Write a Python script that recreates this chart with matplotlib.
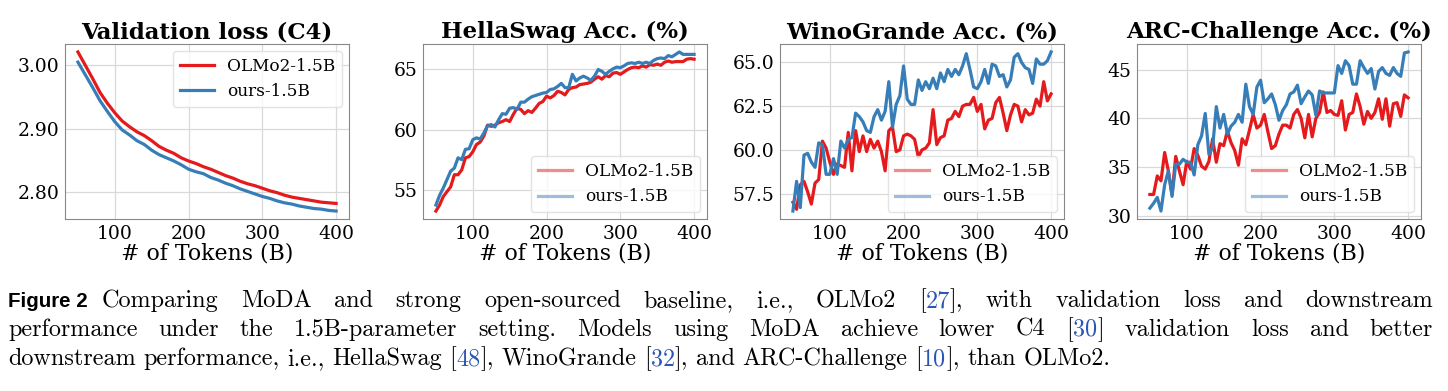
import numpy as np
import matplotlib
matplotlib.use('Agg')
import matplotlib.pyplot as plt

# ---- data ----
tokens_loss = list(range(50, 401, 10))
loss_olmo = [3.021, 3.000, 2.979, 2.957, 2.940, 2.925, 2.912, 2.903, 2.895, 2.889,
             2.881, 2.872, 2.866, 2.861, 2.854, 2.849, 2.845, 2.840, 2.836, 2.831,
             2.826, 2.822, 2.817, 2.813, 2.810, 2.806, 2.802, 2.799, 2.795, 2.792,
             2.790, 2.788, 2.786, 2.784, 2.783, 2.782]
loss_ours = [3.005, 2.985, 2.965, 2.944, 2.927, 2.911, 2.898, 2.890, 2.881, 2.875,
             2.866, 2.859, 2.854, 2.849, 2.843, 2.836, 2.832, 2.829, 2.823, 2.819,
             2.814, 2.810, 2.805, 2.801, 2.797, 2.793, 2.790, 2.786, 2.783, 2.781,
             2.778, 2.776, 2.774, 2.773, 2.771, 2.770]

tokens = list(range(50, 401, 5))
hella_olmo = [53.3, 53.8, 54.5, 54.9, 55.3, 56.3, 56.3, 56.7, 57.7, 57.8,
              58.2, 58.8, 59.0, 59.5, 60.4, 60.3, 60.4, 60.6, 60.7, 60.85,
              60.7, 61.3, 61.8, 61.7, 61.35, 61.6, 61.45, 61.8, 62.2, 62.35,
              62.8, 62.65, 62.85, 63.2, 63.1, 62.9, 63.35, 63.5, 63.55, 63.75,
              63.8, 63.85, 63.95, 64.2, 64.4, 64.2, 64.5, 64.4, 64.7, 64.75,
              64.6, 64.8, 65.0, 65.15, 65.2, 65.15, 65.3, 65.2, 65.4, 65.35,
              65.45, 65.35, 65.6, 65.7, 65.6, 65.65, 65.65, 65.65, 65.85, 65.9,
              65.85]
hella_ours = [53.8, 54.6, 55.2, 55.9, 56.6, 56.85, 57.7, 57.55, 58.4, 58.45,
              59.2, 59.35, 59.25, 59.75, 60.35, 60.45, 60.25, 60.85, 61.35, 61.3,
              61.8, 61.85, 61.7, 62.3, 62.3, 62.55, 62.75, 62.85, 62.95, 63.05,
              63.1, 63.35, 63.4, 63.6, 63.85, 63.5, 63.5, 64.6, 64.05, 64.3,
              64.45, 64.3, 64.1, 64.45, 65.0, 64.85, 64.6, 64.85, 65.05, 65.2,
              65.15, 65.3, 65.5, 65.55, 65.5, 65.6, 65.5, 65.6, 65.5, 65.75,
              65.9, 65.95, 65.9, 66.15, 66.05, 66.25, 66.45, 66.25, 66.25, 66.25,
              66.25]
wino_olmo = [57.0, 56.6, 58.0, 58.2, 57.6, 56.9, 58.1, 58.3, 60.5, 60.1,
             59.3, 58.6, 59.2, 59.1, 59.0, 61.0, 58.8, 61.1, 59.9, 60.8,
             59.9, 60.6, 60.1, 60.5, 59.9, 58.8, 61.1, 61.3, 59.9, 60.0,
             60.8, 60.9, 60.8, 60.6, 59.6, 60.0, 60.1, 60.4, 62.3, 60.3,
             60.7, 60.8, 61.7, 61.8, 62.2, 61.9, 62.5, 62.6, 62.6, 63.0,
             62.2, 62.6, 61.2, 61.7, 61.8, 62.7, 63.0, 62.1, 61.1, 62.0,
             62.6, 62.5, 61.6, 62.3, 62.0, 62.1, 62.9, 62.5, 63.9, 62.8,
             63.2]
wino_ours = [56.5, 58.2, 56.7, 59.7, 59.8, 59.3, 59.0, 60.4, 60.3, 58.6,
             58.6, 59.5, 58.6, 60.5, 60.1, 60.6, 60.7, 62.1, 61.9, 61.6,
             61.1, 61.0, 61.9, 62.3, 61.7, 62.2, 63.9, 61.3, 62.6, 63.1,
             64.8, 62.9, 62.6, 62.6, 64.0, 63.4, 63.9, 63.5, 64.1, 63.5,
             64.4, 63.9, 64.6, 64.2, 64.6, 64.3, 64.8, 65.5, 64.6, 63.6,
             63.5, 63.9, 64.6, 63.8, 64.9, 64.8, 64.2, 64.3, 63.6, 64.0,
             65.3, 65.5, 65.0, 64.7, 64.6, 63.8, 65.2, 64.9, 64.9, 65.1,
             65.6]
arc_olmo = [32.2, 32.2, 34.1, 33.6, 36.5, 34.6, 32.2, 36.1, 34.6, 33.2,
            35.6, 34.8, 36.9, 36.2, 35.1, 34.8, 35.6, 37.9, 35.5, 37.4,
            37.2, 38.7, 37.5, 36.7, 35.2, 37.9, 37.3, 38.8, 40.4, 39.0,
            39.3, 40.4, 38.6, 36.9, 37.2, 38.4, 39.3, 39.3, 39.0, 40.4,
            40.9, 40.0, 38.0, 40.4, 38.1, 40.0, 40.6, 42.7, 40.6, 40.8,
            40.4, 40.3, 41.8, 38.8, 40.4, 40.6, 42.5, 41.2, 39.4, 40.7,
            40.0, 40.6, 42.0, 39.9, 42.0, 39.2, 41.5, 41.6, 40.2, 42.4,
            42.1]
arc_ours = [30.8, 31.3, 31.9, 30.5, 33.2, 34.6, 32.0, 35.3, 35.3, 35.8,
            35.5, 35.5, 34.2, 37.3, 38.2, 40.5, 36.3, 37.0, 41.2, 39.0,
            40.4, 38.4, 39.2, 39.6, 40.4, 39.6, 43.5, 41.2, 40.4, 43.2,
            43.9, 41.6, 42.0, 42.5, 41.4, 39.8, 40.8, 41.4, 42.5, 42.7,
            43.4, 41.5, 42.2, 42.8, 42.4, 40.3, 42.8, 42.6, 42.6, 42.6,
            42.6, 45.4, 44.6, 45.9, 45.4, 43.5, 43.5, 45.9, 45.2, 44.6,
            45.1, 43.0, 44.8, 45.2, 44.6, 44.4, 45.2, 44.6, 44.3, 46.7,
            46.8]

titles = ['Validation loss (C4)', 'HellaSwag Acc. (%)',
          'WinoGrande Acc. (%)', 'ARC-Challenge Acc. (%)']
yticks = [[2.80, 2.90, 3.00], [55, 60, 65], [57.5, 60.0, 62.5, 65.0], [30, 35, 40, 45]]
yfmt = ['{:.2f}', '{:.0f}', '{:.1f}', '{:.0f}']
labels = ['OLMo2-1.5B', 'ours-1.5B']

caption = [
    "Figure 2|Comparing MoDA and strong open-sourced baseline, i.e., OLMo2 [{27}], with validation loss and downstream",
    "performance under the 1.5B-parameter setting. Models using MoDA achieve lower C4 [{30}] validation loss and better",
    "downstream performance, i.e., HellaSwag [{48}], WinoGrande [{32}], and ARC-Challenge [{10}], than OLMo2.",
]

RED = '#e41a1c'
BLUE = '#377eb8'
CITE = '#2a56b4'

W, H = 1448, 391
fig = plt.figure(figsize=(W / 100, H / 100), dpi=100)
plt.rcParams['font.family'] = 'DejaVu Serif'

panels = [
    (tokens_loss, loss_olmo, loss_ours),
    (tokens, hella_olmo, hella_ours),
    (tokens, wino_olmo, wino_ours),
    (tokens, arc_olmo, arc_ours),
]
lefts = [65, 423, 780, 1137]
for i, (x, y_red, y_blue) in enumerate(panels):
    ax = fig.add_axes([lefts[i] / W, 1 - 219 / H, 284 / W, 175 / H])
    ax.plot(x, y_red, color=RED, lw=2.3, label=labels[0])
    ax.plot(x, y_blue, color=BLUE, lw=2.3, label=labels[1])
    ax.set_title(titles[i], fontsize=16.5, fontweight='bold', pad=4)
    ax.set_xlabel('# of Tokens (B)', fontsize=15.8, labelpad=0)
    ax.set_xticks([100, 200, 300, 400])
    ax.set_yticks(yticks[i])
    ax.set_yticklabels([yfmt[i].format(v) for v in yticks[i]])
    ax.tick_params(labelsize=13.5, length=0, pad=4)
    ax.grid(True, color='#d9d9d9', lw=0.9)
    ax.set_axisbelow(True)
    for s in ax.spines.values():
        s.set_color('#888888')
    if i == 0:
        leg = ax.legend(loc='upper right', fontsize=12.2, framealpha=0.8,
                        edgecolor='#dddddd', handlelength=2.0, borderaxespad=0.4)
    else:
        leg = ax.legend(loc='lower right', fontsize=12.2, framealpha=0.8,
                        edgecolor='#dddddd', handlelength=2.0, borderaxespad=0.4)
        for h in leg.legend_handles:
            h.set_alpha(0.5)

# ---- caption, drawn word by word (justified like the LaTeX source) ----
renderer = fig.canvas.get_renderer()
cap_font = dict(family='cmr10', size=17.4)
x_left, x_right = 8, 1433
baselines = [307, 336, 365]


def parse_word(word):
    pieces = []
    buf = ''
    blue = False
    for ch in word:
        if ch == '{':
            if buf:
                pieces.append((buf, 'black'))
            buf, blue = '', True
        elif ch == '}':
            pieces.append((buf, CITE))
            buf, blue = '', False
        else:
            buf += ch
    if buf:
        pieces.append((buf, CITE if blue else 'black'))
    return pieces


for li, line in enumerate(caption):
    y = 1 - baselines[li] / H
    head = None
    if '|' in line:
        head, line = line.split('|')
    words = line.split(' ')
    x = x_left
    if head:
        t = fig.text(x / W, y, head, fontsize=14.8, family='Liberation Sans',
                     fontweight='bold', va='baseline')
        x += t.get_window_extent(renderer).width + 14
    word_objs = []
    for w in words:
        objs = []
        for txt, col in parse_word(w):
            t = fig.text(0, y, txt, color=col, va='baseline', **cap_font)
            objs.append((t, t.get_window_extent(renderer).width))
        word_objs.append(objs)
    widths = [sum(wd for _, wd in objs) for objs in word_objs]
    if li < len(caption) - 1:
        gap = (x_right - x - sum(widths)) / (len(words) - 1)
    else:
        gap = 7.6
    for objs in word_objs:
        for t, wd in objs:
            t.set_x(x / W)
            x += wd
        x += gap

fig.savefig('out.png', dpi=100)
